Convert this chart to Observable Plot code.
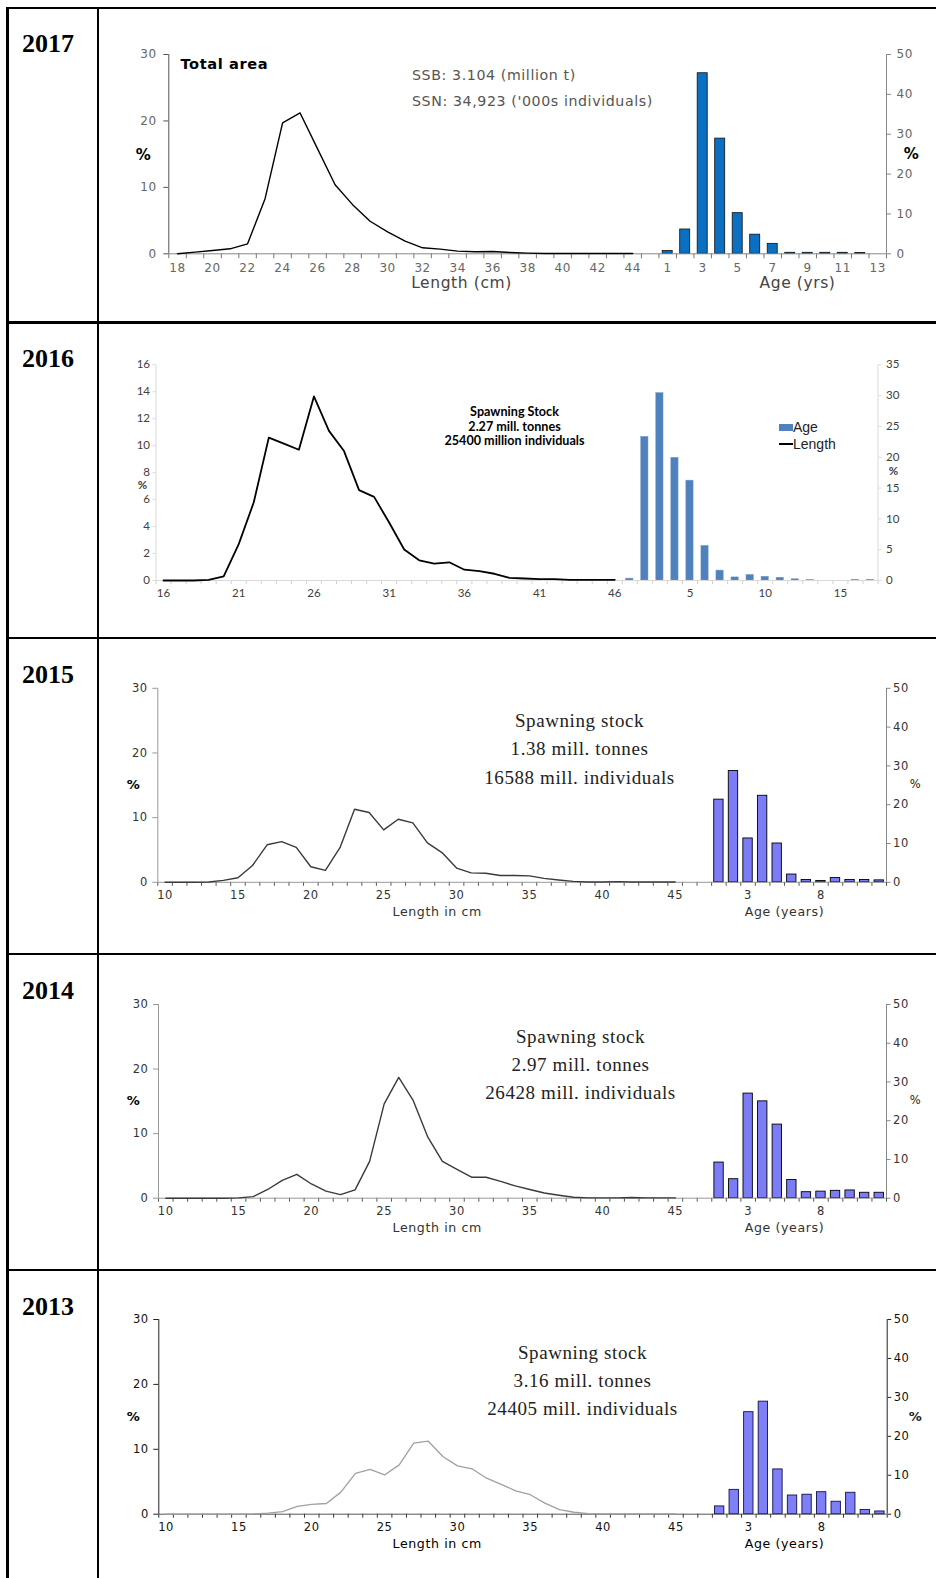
<!DOCTYPE html>
<html><head><meta charset="utf-8">
<script src="https://cdn.jsdelivr.net/npm/d3@7"></script>
<script src="https://cdn.jsdelivr.net/npm/@observablehq/plot@0.6"></script>
<style>
html,body{margin:0;padding:0;background:#fff}
body{width:936px;height:1578px;position:relative;overflow:hidden}
.ln{position:absolute;background:#000}
.year{position:absolute;left:22px;font:bold 26px "Liberation Serif",serif;line-height:26px;color:#000}
.pn{position:absolute;left:100px}
.ls06 text{letter-spacing:0.6px}
.lg{position:absolute;font:14px "Liberation Sans",sans-serif;color:#222;line-height:15px}
</style>
</head><body>
<script>
// ---------- DATA ----------
const years = ["2017", "2016", "2015", "2014", "2013"];

// 2017
const len2017 = [18,19,20,21,22,23,24,25,26,27,28,29,30,31,32,33,34,35,36,37,38,39,40,41,42,43,44];
const lenPct2017 = [0,0.25,0.5,0.75,1.5,8.3,19.7,21.2,15.8,10.4,7.4,4.9,3.3,1.9,0.9,0.7,0.4,0.3,0.35,0.2,0.1,0.05,0.05,0.05,0.05,0.05,0.05];
const age2017 = [1,2,3,4,5,6,7,8,9,10,11,12,13];
const agePct2017 = [0.7,6.1,45.3,28.9,10.2,4.8,2.5,0.25,0.25,0.25,0.25,0.2,0];
const lenTicks2017 = [18,20,22,24,26,28,30,32,34,36,38,40,42,44];
const ageTicks2017 = [1,3,5,7,9,11,13];

// 2016
const len2016 = [16,17,18,19,20,21,22,23,24,25,26,27,28,29,30,31,32,33,34,35,36,37,38,39,40,41,42,43,44,45,46];
const lenPct2016 = [0,0,0,0.05,0.3,2.7,5.8,10.6,10.15,9.7,13.65,11.1,9.6,6.7,6.2,4.3,2.3,1.5,1.25,1.35,0.8,0.7,0.5,0.2,0.15,0.1,0.1,0.05,0.05,0.05,0.05];
const age2016 = [1,2,3,4,5,6,7,8,9,10,11,12,13,14,15,16,17];
const agePct2016 = [0.3,23.3,30.4,19.9,16.2,5.6,1.6,0.5,0.9,0.6,0.45,0.2,0.05,0,0,0.1,0.1];
const lenTicks2016 = [16,21,26,31,36,41,46];
const ageTicks2016 = [5,10,15];

// 2015
const len2015 = [10,11,12,13,14,15,16,17,18,19,20,21,22,23,24,25,26,27,28,29,30,31,32,33,34,35,36,37,38,39,40,41,42,43,44,45];
const lenPct2015 = [0,0,0,0.05,0.3,0.7,2.6,5.8,6.3,5.4,2.4,1.85,5.35,11.3,10.8,8.1,9.75,9.2,6.1,4.6,2.2,1.45,1.4,1.05,1.05,1.0,0.6,0.35,0.15,0.05,0.05,0.1,0.05,0.05,0.05,0.05];
const age2015 = [1,2,3,4,5,6,7,8,9,10,11,12];
const agePct2015 = [21.3,28.7,11.3,22.3,10.0,2.0,0.6,0.35,1.1,0.6,0.6,0.5];

// 2014
const len2014 = len2015;
const lenPct2014 = [0,0,0,0,0,0.05,0.25,1.35,2.75,3.7,2.2,1.1,0.55,1.3,5.7,14.6,18.7,15.1,9.45,5.7,4.45,3.25,3.25,2.6,1.9,1.35,0.8,0.45,0.15,0.05,0.05,0.05,0.1,0.05,0.05,0.05];
const age2014 = age2015;
const agePct2014 = [9.2,4.9,27.0,25.0,19.0,4.7,1.55,1.7,1.9,2.0,1.4,1.4];

// 2013
const len2013 = len2015;
const lenPct2013 = [0,0,0,0,0,0,0.05,0.15,0.4,1.2,1.5,1.65,3.4,6.3,6.9,6.05,7.6,10.95,11.25,8.9,7.45,7.0,5.55,4.6,3.6,3.0,1.7,0.7,0.3,0.1,0.05,0.05,0.05,0.05,0.05,0.05];
const age2013 = age2015;
const agePct2013 = [2.0,6.25,26.2,28.9,11.5,4.8,5.0,5.65,3.2,5.5,1.1,0.7];

const lenTicksB = [10,15,20,25,30,35,40,45];
const ageTicksB = [3,8];

const notes2017 = ["SSB: 3.104 (million t)", "SSN: 34,923 ('000s individuals)"];
const notes2016 = ["Spawning Stock", "2.27 mill. tonnes", "25400 million individuals"];
const notes2015 = ["Spawning stock", "1.38 mill. tonnes", "16588 mill. individuals"];
const notes2014 = ["Spawning stock", "2.97 mill. tonnes", "26428 mill. individuals"];
const notes2013 = ["Spawning stock", "3.16 mill. tonnes", "24405 mill. individuals"];

// ---------- TABLE ----------
const rowLines = [7.8, 322.7, 638, 954, 1270];
function addLine(x, y, w, h) {
  const d = document.createElement("div");
  d.className = "ln";
  Object.assign(d.style, {left: x + "px", top: y + "px", width: w + "px", height: h + "px"});
  document.body.appendChild(d);
}
rowLines.forEach(y => addLine(6, y - 1.3, 930, 2.6));
addLine(6, 6.5, 2.6, 1572);
addLine(96.8, 6.5, 2.6, 1572);
years.forEach((yr, i) => {
  const d = document.createElement("div");
  d.className = "year";
  d.textContent = yr;
  d.style.top = (rowLines[i] + 45.3 - 21.8) + "px";
  document.body.appendChild(d);
});

// ---------- PANELS ----------
function buildPanel(c) {
  const W = 836;
  const ml = c.axL - 100, mr = 936 - c.axR, mt = c.yTop - c.svgTop, mb = c.svgTop + c.H - c.y0;
  const k = c.leftMax / c.rightMax;
  const lineData = c.len.map((L, i) => ({s: L - c.lenMin, v: c.lenPct[i]}));
  const barData = c.age.map((a, i) => ({s: c.ageSlot1 + a - 1, v: c.agePct[i] * k})).filter(d => d.v > 0);
  const labels = new Map([
    ...c.lenTicks.map(L => [L - c.lenMin, String(L)]),
    ...c.ageTicks.map(a => [c.ageSlot1 + a - 1, String(a)])
  ]);
  const at = (px, py) => ({dx: px - c.axL, dy: py - c.yTop});
  const txt = (t, px, py, o) => Plot.text([t], {frameAnchor: "top-left", ...at(px, py), lineAnchor: "middle", ...o});
  const marks = [
    Plot.axisX({ticks: d3.range(-0.5, c.n), tickFormat: () => "", tickSize: c.xTickSize, stroke: c.xTickColor, label: null}),
    Plot.axisX({ticks: [...labels.keys()], tickFormat: s => labels.get(s), tickSize: 0, tickPadding: c.xPad, fill: c.labelColor, label: null}),
    Plot.axisY({ticks: c.leftTicks, tickSize: c.lTick, tickPadding: c.lPad, stroke: c.leftColor, fill: c.labelColor, label: null}),
    Plot.axisY({anchor: "right", ticks: c.rightTicks.map(t => t * k), tickFormat: d => String(Math.round(d / k)), tickSize: c.rTick, tickPadding: c.rPad, stroke: c.rightColor, fill: c.labelColor, label: null}),
    Plot.ruleX([-0.5], {stroke: c.leftColor}),
    Plot.ruleX([c.n - 0.5], {stroke: c.rightColor}),
    Plot.rectY(barData, {x1: d => d.s - 0.5, x2: d => d.s + 0.5, y: "v", insetLeft: c.inset, insetRight: c.inset, fill: c.barFill, stroke: c.barStroke, strokeWidth: c.barSW}),
    Plot.ruleY([0], {stroke: c.bottomColor}),
    Plot.line(lineData, {x: "s", y: "v", stroke: c.lineColor, strokeWidth: c.lineW}),
    ...c.texts.map(t => txt(t.t, t.x, t.y, t.o))
  ];
  const svg = Plot.plot({
    width: W, height: c.H,
    marginLeft: ml, marginRight: mr, marginTop: mt, marginBottom: mb,
    x: {domain: [-0.5, c.n - 0.5], label: null},
    y: {domain: [0, c.leftMax], label: null},
    style: {fontFamily: c.font, fontSize: c.fs + "px", background: "transparent", overflow: "visible", color: "#000"},
    marks
  });
  const wrap = document.createElement("div");
  wrap.className = "pn " + (c.cls || "");
  wrap.style.top = c.svgTop + "px";
  wrap.appendChild(svg);
  document.body.appendChild(wrap);
}

const dv = "DejaVu Sans";
const serifNote = (lines, cx, ys) => lines.map((t, i) => ({t, x: cx, y: ys[i], o: {textAnchor: "middle", fontFamily: "Liberation Serif", fontSize: 19, fill: "#222"}}));

// 2017
buildPanel({
  len: len2017, lenPct: lenPct2017, age: age2017, agePct: agePct2017,
  lenTicks: lenTicks2017, ageTicks: ageTicks2017,
  lenMin: 18, ageSlot1: 28, n: 41,
  svgTop: 9, H: 311, axL: 168.3, axR: 886, yTop: 54, y0: 253.3,
  leftMax: 30, leftTicks: [0, 10, 20, 30], rightMax: 50, rightTicks: [0, 10, 20, 30, 40, 50],
  font: dv, fs: 12, labelColor: "#666", cls: "ls06",
  xTickSize: 5, xTickColor: "#777", xPad: 9.5,
  lTick: 5, lPad: 7, rTick: 4, rPad: 6,
  leftColor: "#555", rightColor: "#888", bottomColor: "#888",
  lineColor: "#000", lineW: 1.4,
  barFill: "#0b6fc2", barStroke: "#111", barSW: 0.8, inset: 3.75,
  texts: [
    {t: "%", x: 143, y: 155, o: {textAnchor: "middle", fontWeight: "bold", fontSize: 15, fill: "#000"}},
    {t: "%", x: 911, y: 154, o: {textAnchor: "middle", fontWeight: "bold", fontSize: 15, fill: "#000"}},
    {t: "Total area", x: 180, y: 64, o: {textAnchor: "start", fontWeight: "bold", fontSize: 14.6, fill: "#000"}},
    {t: notes2017[0], x: 411.5, y: 74.5, o: {textAnchor: "start", fontSize: 14.2, fill: "#555"}},
    {t: notes2017[1], x: 411.5, y: 100.6, o: {textAnchor: "start", fontSize: 14.2, fill: "#555"}},
    {t: "Length (cm)", x: 461, y: 283, o: {textAnchor: "middle", fontSize: 15.5, fill: "#444"}},
    {t: "Age (yrs)", x: 797, y: 283, o: {textAnchor: "middle", fontSize: 15.5, fill: "#444"}}
  ]
});

// 2016
buildPanel({
  len: len2016, lenPct: lenPct2016, age: age2016, agePct: agePct2016,
  lenTicks: lenTicks2016, ageTicks: ageTicks2016,
  lenMin: 16, ageSlot1: 31, n: 48,
  svgTop: 325, H: 311, axL: 155.5, axR: 877.5, yTop: 364.3, y0: 580,
  leftMax: 16, leftTicks: [0, 2, 4, 6, 8, 10, 12, 14, 16], rightMax: 35, rightTicks: [0, 5, 10, 15, 20, 25, 30, 35],
  font: "Lato", fs: 11.5, labelColor: "#404040",
  xTickSize: 4, xTickColor: "#d0d0d0", xPad: 8,
  lTick: 3, lPad: 3, rTick: 3, rPad: 5,
  leftColor: "#d9d9d9", rightColor: "#d9d9d9", bottomColor: "#d9d9d9",
  lineColor: "#000", lineW: 1.8,
  barFill: "#4f81bd", barStroke: "#7598c8", barSW: 0.5, inset: 3.9,
  texts: [
    {t: "%", x: 142, y: 485, o: {textAnchor: "middle", fontWeight: "bold", fontSize: 11.5, fill: "#404040"}},
    {t: "%", x: 893, y: 470.5, o: {textAnchor: "middle", fontWeight: "bold", fontSize: 11.5, fill: "#404040"}},
    ...notes2016.map((t, i) => ({t, x: 514, y: [411.7, 426.7, 440.8][i], o: {textAnchor: "middle", fontWeight: "bold", fontSize: 12.6, fill: "#000"}}))
  ]
});

// 2015, 2014, 2013 share a layout
const shared = {
  lenTicks: lenTicksB, ageTicks: ageTicksB, lenMin: 10, ageSlot1: 38, n: 50,
  leftMax: 30, leftTicks: [0, 10, 20, 30], rightMax: 50, rightTicks: [0, 10, 20, 30, 40, 50],
  font: dv, fs: 11.5, cls: "ls06",
  xTickSize: 4, xPad: 9, lTick: 5, lPad: 5, rTick: 3.5, rPad: 3,
  inset: 2.6, barSW: 0.9
};
function lowerTexts(dy, pctBold, notes, cx, tw) {
  return [
    {t: "%", x: 133, y: 784 + dy, o: {textAnchor: "middle", fontWeight: "bold", fontSize: 13, fill: "#000"}},
    {t: "%", x: 915, y: 784 + dy, o: {textAnchor: "middle", fontWeight: pctBold ? "bold" : "normal", fontSize: pctBold ? 13 : 11.5, fill: "#222"}},
    {t: "Length in cm", x: 436.7, y: 911.8 + dy, o: {textAnchor: "middle", fontSize: 12.6, fill: tw}},
    {t: "Age (years)", x: 784, y: 911.8 + dy, o: {textAnchor: "middle", fontSize: 12.6, fill: tw}},
    ...serifNote(notes, cx, [720.7 + dy, 748.8 + dy, 777 + dy])
  ];
}
buildPanel({...shared,
  len: len2015, lenPct: lenPct2015, age: age2015, agePct: agePct2015,
  svgTop: 640, H: 312, axL: 157.3, axR: 886, yTop: 687.8, y0: 881.8,
  labelColor: "#333", xTickColor: "#555",
  leftColor: "#999", rightColor: "#888", bottomColor: "#999",
  lineColor: "#3a3a3a", lineW: 1.4,
  barFill: "#7b7cf6", barStroke: "#000",
  texts: lowerTexts(0, false, notes2015, 579, "#333")
});
buildPanel({...shared,
  len: len2014, lenPct: lenPct2014, age: age2014, agePct: agePct2014,
  svgTop: 956, H: 312, axL: 158, axR: 886, yTop: 1004, y0: 1197.7,
  labelColor: "#333", xTickColor: "#555",
  leftColor: "#999", rightColor: "#888", bottomColor: "#999",
  lineColor: "#3a3a3a", lineW: 1.4,
  barFill: "#7b7cf6", barStroke: "#000",
  texts: lowerTexts(315.9, false, notes2014, 580, "#333")
});
buildPanel({...shared,
  len: len2013, lenPct: lenPct2013, age: age2013, agePct: agePct2013,
  svgTop: 1272, H: 305, axL: 158.3, axR: 886.7, yTop: 1319, y0: 1513.7,
  labelColor: "#111", xTickColor: "#333",
  leftColor: "#222", rightColor: "#222", bottomColor: "#555",
  lineColor: "#a0a0a0", lineW: 1.3,
  barFill: "#7f7ff7", barStroke: "#10104a",
  texts: lowerTexts(631.9, true, notes2013, 582, "#000")
});

// 2016 legend
const lg1 = document.createElement("div");
lg1.className = "lg";
lg1.style.left = "779px"; lg1.style.top = "419.5px";
lg1.innerHTML = '<span style="display:inline-block;width:14px;height:7px;background:#4f81bd;vertical-align:1px"></span>Age';
document.body.appendChild(lg1);
const lg2 = document.createElement("div");
lg2.className = "lg";
lg2.style.left = "779px"; lg2.style.top = "436.5px";
lg2.innerHTML = '<span style="display:inline-block;width:14px;height:1.5px;background:#000;vertical-align:4px"></span>Length';
document.body.appendChild(lg2);
</script>
</body></html>
